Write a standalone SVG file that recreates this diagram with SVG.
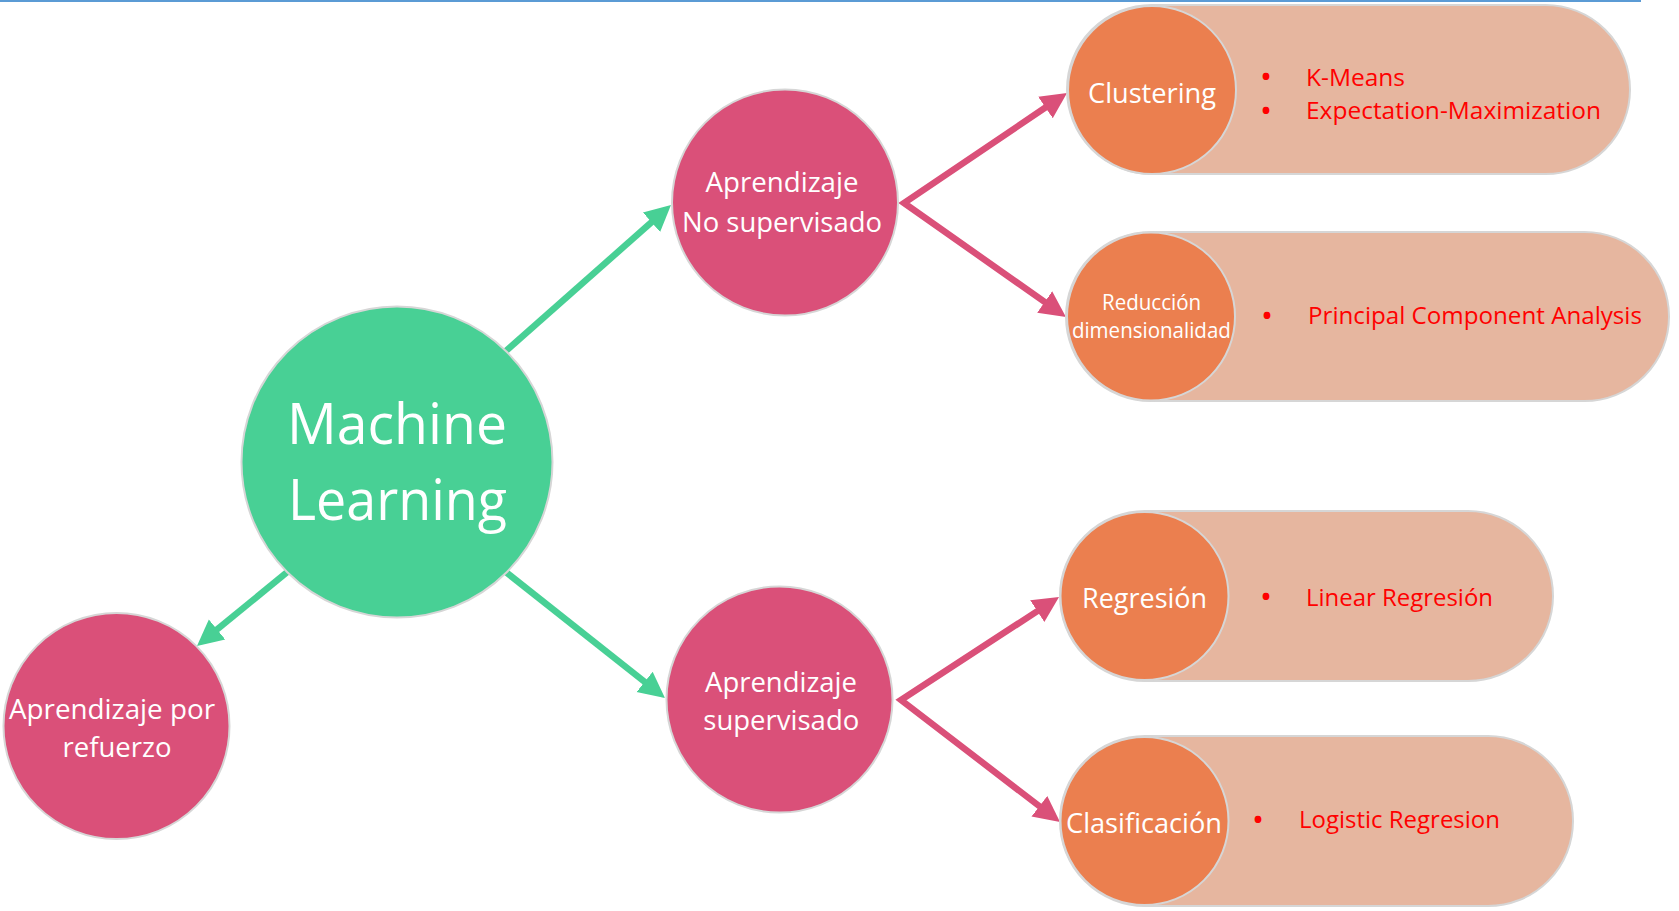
<svg xmlns="http://www.w3.org/2000/svg" width="1679" height="911" viewBox="0 0 1679 911">
<defs>
<style>
.green{fill:#48D095;stroke:#D6D6D6;stroke-width:2}
.pink{fill:#DA5079;stroke:#D6D6D6;stroke-width:2}
.orange{fill:#EB7F4F;stroke:#D6D6D6;stroke-width:2}
.pill{fill:#E6B69F;stroke:#D6D6D6;stroke-width:2}
.wt{font-family:"Open Sans","Noto Sans",sans-serif;fill:#FFFFFF;text-anchor:middle}
.rt{font-family:"Open Sans","Noto Sans",sans-serif;fill:#FF0000;font-size:23px}
.bl{font-family:"Open Sans","Noto Sans",sans-serif;fill:#FF0000;font-size:24px;font-weight:bold;text-anchor:middle}
.gline{fill:none;stroke:#48D095;stroke-width:6.5}
.pline{fill:none;stroke:#DA5079;stroke-width:6.5;stroke-linejoin:miter;stroke-miterlimit:10}
</style>
<marker id="ag" markerUnits="userSpaceOnUse" markerWidth="30" markerHeight="30" viewBox="0 -15 30 30" refX="12" refY="0" orient="auto-start-reverse">
<path d="M0,-13 L26,0 L0,13 z" fill="#48D095"/>
</marker>
<marker id="ap" markerUnits="userSpaceOnUse" markerWidth="30" markerHeight="30" viewBox="0 -15 30 30" refX="12" refY="0" orient="auto-start-reverse">
<path d="M0,-13 L26,0 L0,13 z" fill="#DA5079"/>
</marker>
</defs>
<rect x="0" y="0" width="1679" height="911" fill="#FFFFFF"/>
<rect x="0" y="0" width="1641" height="2" fill="#5B9BD5"/>

<g id="connectors">
<path class="gline" d="M499.5,356.6 L660.5,214.3" marker-end="url(#ag)"/>
<path class="gline" d="M499.2,566.8 L654,689.3" marker-end="url(#ag)"/>
<path class="gline" d="M293.7,566.7 L207.8,637.1" marker-end="url(#ag)"/>
<path class="pline" d="M1055.4,100.8 L904,203 L1054.5,308.9" marker-start="url(#ap)" marker-end="url(#ap)"/>
<path class="pline" d="M1047.3,604.6 L901,700 L1048.9,813.5" marker-start="url(#ap)" marker-end="url(#ap)"/>
</g>

<g id="machine-learning">
<circle class="green" cx="397" cy="462" r="155.5"/>
<text class="wt" x="397" y="444" font-size="57" textLength="220" lengthAdjust="spacingAndGlyphs">Machine</text>
<text class="wt" x="397.5" y="520" font-size="57" textLength="219" lengthAdjust="spacingAndGlyphs">Learning</text>
</g>

<g id="no-supervisado">
<circle class="pink" cx="785" cy="202.5" r="113"/>
<text class="wt" x="782" y="192" font-size="26.5" textLength="153" lengthAdjust="spacingAndGlyphs">Aprendizaje</text>
<text class="wt" x="782" y="232" font-size="26.5" textLength="200" lengthAdjust="spacingAndGlyphs">No supervisado</text>
</g>

<g id="supervisado">
<circle class="pink" cx="779.5" cy="699.5" r="113"/>
<text class="wt" x="781" y="691.5" font-size="26.5" textLength="152" lengthAdjust="spacingAndGlyphs">Aprendizaje</text>
<text class="wt" x="781.3" y="729.5" font-size="26.5" textLength="156" lengthAdjust="spacingAndGlyphs">supervisado</text>
</g>

<g id="refuerzo">
<circle class="pink" cx="116.5" cy="726" r="113"/>
<text class="wt" x="112" y="719" font-size="26.5" textLength="206" lengthAdjust="spacingAndGlyphs">Aprendizaje por</text>
<text class="wt" x="117" y="757" font-size="26.5" textLength="109" lengthAdjust="spacingAndGlyphs">refuerzo</text>
</g>

<g id="clustering">
<rect class="pill" x="1067" y="5" width="563" height="169" rx="84.5" ry="84.5"/>
<circle class="orange" cx="1152" cy="90" r="84"/>
<text class="wt" x="1152" y="103" font-size="26.5" textLength="128" lengthAdjust="spacingAndGlyphs">Clustering</text>
<text class="bl" x="1266" y="84.5">•</text>
<text class="rt" x="1306" y="86" textLength="99" lengthAdjust="spacingAndGlyphs">K-Means</text>
<text class="bl" x="1266" y="118.5">•</text>
<text class="rt" x="1306" y="119" textLength="295" lengthAdjust="spacingAndGlyphs">Expectation-Maximization</text>
</g>

<g id="reduccion">
<rect class="pill" x="1066" y="232" width="603" height="169" rx="84.5" ry="84.5"/>
<circle class="orange" cx="1151" cy="316.5" r="84"/>
<text class="wt" x="1151.6" y="310" font-size="21" textLength="99" lengthAdjust="spacingAndGlyphs">Reducción</text>
<text class="wt" x="1151.4" y="338" font-size="21" textLength="159" lengthAdjust="spacingAndGlyphs">dimensionalidad</text>
<text class="bl" x="1267" y="323.5">•</text>
<text class="rt" x="1308" y="324" textLength="334" lengthAdjust="spacingAndGlyphs">Principal Component Analysis</text>
</g>

<g id="regresion">
<rect class="pill" x="1060" y="511" width="493" height="170" rx="85" ry="85"/>
<circle class="orange" cx="1144.5" cy="596" r="84"/>
<text class="wt" x="1144.6" y="608" font-size="26.5" textLength="125" lengthAdjust="spacingAndGlyphs">Regresión</text>
<text class="bl" x="1266" y="604.5">•</text>
<text class="rt" x="1306" y="606" textLength="187" lengthAdjust="spacingAndGlyphs">Linear Regresión</text>
</g>

<g id="clasificacion">
<rect class="pill" x="1060" y="736" width="513" height="170" rx="85" ry="85"/>
<circle class="orange" cx="1144.5" cy="821" r="84"/>
<text class="wt" x="1144" y="833" font-size="26.5" textLength="156" lengthAdjust="spacingAndGlyphs">Clasificación</text>
<text class="bl" x="1258" y="827.5">•</text>
<text class="rt" x="1299" y="828" textLength="201" lengthAdjust="spacingAndGlyphs">Logistic Regresion</text>
</g>
</svg>
